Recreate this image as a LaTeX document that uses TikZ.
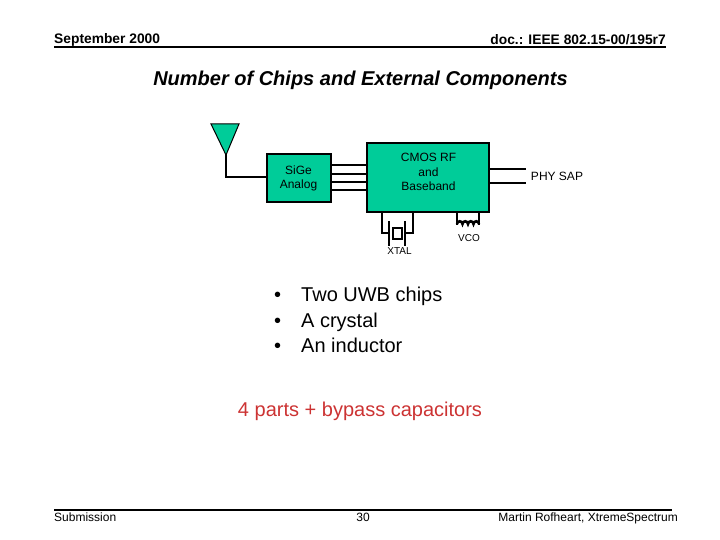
\documentclass[tikz,border=0pt]{standalone}
\usepackage{fontspec}
\setmainfont{Liberation Sans}
\definecolor{chipGreen}{RGB}{0,204,153}
\definecolor{partsRed}{RGB}{204,51,51}
\begin{document}
\begin{tikzpicture}
[x=1pt,y=-1pt,
  chipDecorate/.style={shape=rectangle,draw,line width=2pt,fill=chipGreen,inner sep=0pt},%
  chipText/.style={inner sep=0pt,align=center,font=\fontsize{12}{14.2}\selectfont},%
  lineDecorate/.style={-,line width=2pt},%
  ruleDecorate/.style={-,line width=2pt},%
  smallText/.style={inner sep=0pt,font=\fontsize{12}{14}\selectfont},%
  boldText/.style={inner sep=0pt,font=\fontsize{13.8}{16}\selectfont\bfseries},%
  tinyText/.style={inner sep=0pt,font=\fontsize{10}{12}\selectfont},%
  bigText/.style={inner sep=0pt,font=\fontsize{20}{24}\selectfont}]
\useasboundingbox (0,0) rectangle (720,540);
%% header and footer
\node (date) at (54,44) [boldText,anchor=base west] {September 2000};
\node (doc) at (666,45) [boldText,anchor=base east] {doc.: IEEE 802.15-00/195r7};
\node (title) at (360.5,86) [bigText,anchor=base,font=\fontsize{20}{24}\selectfont\bfseries\itshape] {Number of Chips and External Components};
\node (sub) at (54,521) [smallText,anchor=base west] {Submission};
\node (page) at (363,521) [smallText,anchor=base] {30};
\node (author) at (678,521) [smallText,anchor=base east] {Martin Rofheart, XtremeSpectrum};
\coordinate (headL) at (54,47);
\coordinate (headR) at (666,47);
\coordinate (footL) at (54,510);
\coordinate (footR) at (672,510);
%% chips
\node (sige) at (299,178) [chipDecorate,minimum width=64pt,minimum height=48pt] {};
\node (sigetext) at (298.5,178) [chipText] {SiGe\\Analog};
\node (cmos) at (428,177.5) [chipDecorate,minimum width=122pt,minimum height=69pt] {};
\node (cmostext) at (428.5,172) [chipText] {CMOS RF\\and\\Baseband};
\draw[line width=1pt,fill=chipGreen] (211,124) -- (239,124) -- (226,155) -- cycle;
%% bus wires, end points
\foreach \busname/\y in {a/165, b/174, c/182, d/190}
{
  \coordinate (sige\busname) at (331,\y);
  \coordinate (cmos\busname) at (367,\y);
}
\foreach \sapname/\y in {a/169.5, b/183.5}
{
  \coordinate (phyin\sapname) at (489,\y);
  \coordinate (phyout\sapname) at (525,\y);
}
\coordinate (anttip) at (226,155);
\coordinate (antbend) at (226,177);
\coordinate (sigein) at (267,177);
%% crystal
\coordinate (xtalLtop) at (382,212);
\coordinate (xtalLbend) at (382,233);
\coordinate (xtalLin) at (389,233);
\coordinate (xtalRtop) at (413,212);
\coordinate (xtalRbend) at (413,233);
\coordinate (xtalRin) at (405,233);
\coordinate (plateLa) at (389,222);
\coordinate (plateLb) at (389,245);
\coordinate (plateRa) at (405,222);
\coordinate (plateRb) at (405,245);
\node (xtalcore) at (397.5,233.5) [draw,line width=2pt,minimum width=9pt,minimum height=11pt,inner sep=0pt] {};
\node (xtal) at (399.5,251) [tinyText] {XTAL};
%% inductor
\coordinate (vcoLtop) at (457,212);
\coordinate (vcoL) at (457,224);
\coordinate (vcoRtop) at (479,212);
\coordinate (vcoR) at (479,224);
\node (vco) at (469,238.5) [tinyText] {VCO};
\node (phy) at (557,176.5) [smallText] {PHY SAP};
%% bullets and red line
\foreach \itemname/\y/\itemtext in {one/301/Two UWB chips, two/327/A crystal, three/352/An inductor}
{
  \node (dot\itemname) at (274,\y) [bigText,anchor=base west] {•};
  \node (item\itemname) at (301,\y) [bigText,anchor=base west] {\itemtext};
}
\node (parts) at (360,416.5) [bigText,anchor=base,text=partsRed] {4 parts + bypass capacitors};
%% edges or lines
\path
\foreach \startnode/\endnode in {
  siged/cmosd, sigec/cmosc, sigeb/cmosb, sigea/cmosa, phyina/phyouta, phyinb/phyoutb,
  xtalLin/xtalLbend, xtalLbend/xtalLtop, xtalRin/xtalRbend, xtalRbend/xtalRtop,
  plateLa/plateLb, plateRa/plateRb, anttip/antbend, antbend/sigein, vcoLtop/vcoL, vcoRtop/vcoR}
{
  (\startnode) edge[lineDecorate,line cap=rect] node {} (\endnode)
};
\draw[ruleDecorate] (headL) -- (headR);
\draw[ruleDecorate] (footL) -- (footR);
\draw[line width=2.6pt] (vcoL) arc (180:360:2.75) arc (180:360:2.75) arc (180:360:2.75) arc (180:360:2.75);
\end{tikzpicture}
\end{document}
